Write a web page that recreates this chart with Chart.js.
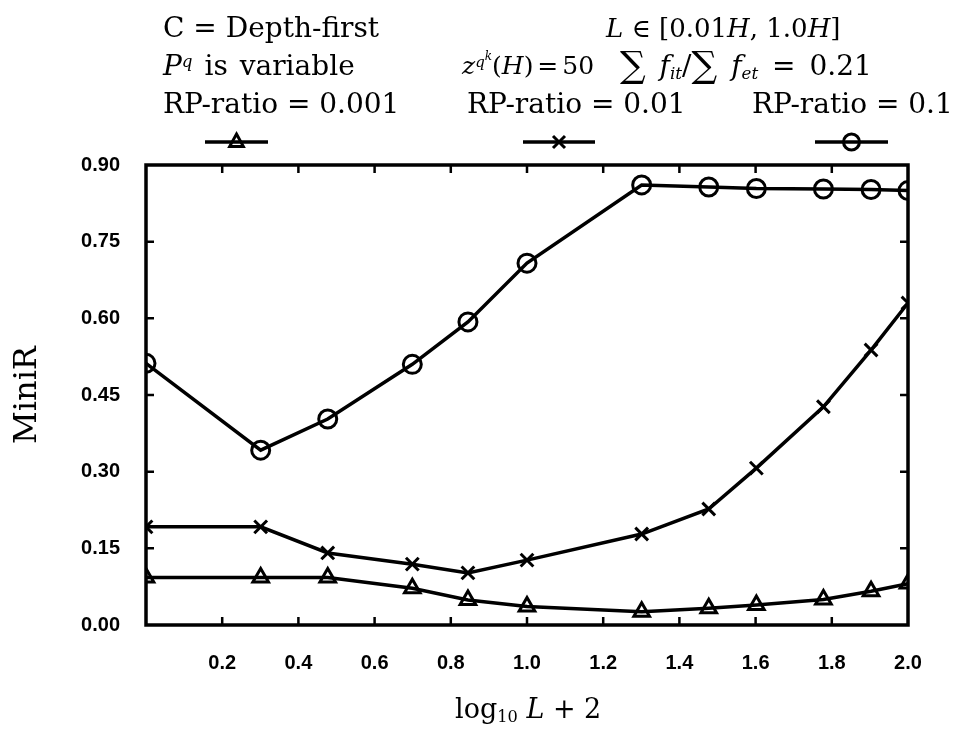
<!DOCTYPE html>
<html>
<head>
<meta charset="utf-8">
<script src="https://cdn.jsdelivr.net/npm/chart.js@4/dist/chart.umd.min.js"></script>
<style>
  body { margin: 0; background: #fff; }
  #wrap { position: relative; width: 958px; height: 730px; }
  .txt { position: absolute; font-family: "DejaVu Serif", serif; font-size: 28px; color: #000; white-space: nowrap; line-height: 30px; }
  .txt sup { font-size: 60%; vertical-align: 0.5em; line-height: 0; }
  .txt sub { font-size: 60%; vertical-align: -0.25em; line-height: 0; }
  .txt sup sup { font-size: 80%; vertical-align: 0.6em; }
  .sum { font-size: 36px; vertical-align: -2px; line-height: 0; }
</style>
</head>
<body>
<div id="wrap">
  <canvas id="chart" width="958" height="730"></canvas>
  <div class="txt" style="left:163px; top:13px;">C = Depth-first</div>
  <div class="txt" style="left:606px; top:13px; font-size:26px;"><i>L</i> ∈ [0.01<i>H</i>, 1.0<i>H</i>]</div>
  <div class="txt" style="left:163px; top:51px; word-spacing:3px;"><i>P</i><sup><i>q</i></sup> is variable</div>
  <div class="txt" style="left:462px; top:51px; font-size:25px; word-spacing:-4px;"><i>z</i><sup><i>q</i><sup><i>k</i></sup></sup>(<i>H</i>) = 50</div>
  <div class="txt" style="left:620px; top:51px; word-spacing:5px;"><span class="sum">∑</span> <i>f</i><sub><i>it</i></sub>/<span class="sum">∑</span> <i>f</i><sub><i>et</i></sub> = 0.21</div>
  <div class="txt" style="left:163px; top:89px;">RP-ratio = 0.001</div>
  <div class="txt" style="left:467px; top:89px;">RP-ratio = 0.01</div>
  <div class="txt" style="left:752px; top:89px;">RP-ratio = 0.1</div>
  <div class="txt" style="left:455px; top:694px; font-size:27px;">log<sub>10</sub> <i>L</i> + 2</div>
</div>
<script>
// x = log10 L + 2
const xValues = [0, 0.301, 0.477, 0.699, 0.845, 1.0, 1.301, 1.477, 1.602, 1.778, 1.903, 2.0];
const rp001 = [0.093, 0.093, 0.093, 0.072, 0.049, 0.036, 0.026, 0.033, 0.039, 0.050, 0.066, 0.081];
const rp01 = [0.192, 0.192, 0.141, 0.119, 0.102, 0.127, 0.178, 0.227, 0.307, 0.427, 0.538, 0.630];
const rp1 = [0.512, 0.342, 0.403, 0.510, 0.593, 0.708, 0.861, 0.857, 0.854, 0.853, 0.852, 0.850];
const seriesLabels = ["RP-ratio = 0.001", "RP-ratio = 0.01", "RP-ratio = 0.1"];
const markers = ["triangle", "crossRot", "circle"];
const xTicks = [0.2, 0.4, 0.6, 0.8, 1.0, 1.2, 1.4, 1.6, 1.8];
const yTicks = [0.15, 0.30, 0.45, 0.60, 0.75];

function toPoints(ys) {
  return ys.map((y, i) => ({ x: xValues[i], y: y }));
}

function drawMarker(ctx, style, x, y, r) {
  ctx.beginPath();
  if (style === "circle") {
    ctx.arc(x, y, r, 0, Math.PI * 2);
  } else if (style === "crossRot") {
    ctx.moveTo(x - r * 0.75, y - r * 0.75);
    ctx.lineTo(x + r * 0.75, y + r * 0.75);
    ctx.moveTo(x + r * 0.75, y - r * 0.75);
    ctx.lineTo(x - r * 0.75, y + r * 0.75);
  } else {
    ctx.moveTo(x, y - r);
    ctx.lineTo(x + r * 0.85, y + r * 0.55);
    ctx.lineTo(x - r * 0.85, y + r * 0.55);
    ctx.closePath();
  }
  ctx.stroke();
}

// frame with inward ticks + legend samples above the plot
const framePlugin = {
  id: "frame",
  afterDraw(chart) {
    const ctx = chart.ctx;
    const a = chart.chartArea;
    const xs = chart.scales.x, ys = chart.scales.y;
    ctx.save();
    ctx.strokeStyle = "#000";
    ctx.lineWidth = 3.5;
    ctx.strokeRect(a.left, a.top, a.right - a.left, a.bottom - a.top);
    ctx.lineWidth = 2.5;
    ctx.beginPath();
    xTicks.forEach(v => {
      const px = xs.getPixelForValue(v);
      ctx.moveTo(px, a.bottom); ctx.lineTo(px, a.bottom - 8);
      ctx.moveTo(px, a.top); ctx.lineTo(px, a.top + 8);
    });
    yTicks.forEach(v => {
      const py = ys.getPixelForValue(v);
      ctx.moveTo(a.left, py); ctx.lineTo(a.left + 8, py);
      ctx.moveTo(a.right, py); ctx.lineTo(a.right - 8, py);
    });
    ctx.stroke();

    // legend samples
    const samples = [[205, 268], [523, 595], [815, 888]];
    samples.forEach((s, i) => {
      const y = 142;
      ctx.lineWidth = 3.5;
      ctx.beginPath();
      ctx.moveTo(s[0], y); ctx.lineTo(s[1], y);
      ctx.stroke();
      ctx.lineWidth = 3;
      drawMarker(ctx, markers[i], (s[0] + s[1]) / 2, y, 8);
    });
    ctx.restore();
  }
};

const ctx = document.getElementById("chart").getContext("2d");
const datasets = [rp001, rp01, rp1].map((ys, i) => ({
  label: seriesLabels[i],
  data: toPoints(ys),
  showLine: true,
  borderColor: "#000",
  borderWidth: 3.5,
  backgroundColor: "rgba(0,0,0,0)",
  pointStyle: markers[i],
  pointRadius: 9,
  pointBorderWidth: 3,
  pointBorderColor: "#000",
  pointBackgroundColor: "rgba(0,0,0,0)",
  tension: 0,
}));

const tickFont = { family: "'Liberation Sans', Arial, sans-serif", size: 20, weight: "bold" };

new Chart(ctx, {
  type: "scatter",
  data: { datasets: datasets },
  options: {
    responsive: false,
    animation: false,
    layout: { padding: { top: 165, right: 50, bottom: 0, left: 0 } },
    plugins: {
      legend: { display: false },
      tooltip: { enabled: false },
    },
    scales: {
      x: {
        type: "linear",
        min: 0,
        max: 2,
        grid: { display: false, drawTicks: false },
        border: { display: false },
        afterFit: (scale) => { scale.height = 105; },
        afterBuildTicks: (scale) => {
          scale.ticks = [0].concat(xTicks, [2.0]).map(v => ({ value: v }));
        },
        ticks: {
          padding: 26,
          maxRotation: 0,
          autoSkip: false,
          color: "#000",
          font: tickFont,
          callback: (v) => (v === 0 ? "" : v.toFixed(1)),
        },
      },
      y: {
        min: 0,
        max: 0.9,
        grid: { display: false, drawTicks: false },
        border: { display: false },
        afterFit: (scale) => { scale.width = 146; },
        afterBuildTicks: (scale) => {
          scale.ticks = [0].concat(yTicks, [0.9]).map(v => ({ value: v }));
        },
        ticks: {
          padding: 26,
          autoSkip: false,
          color: "#000",
          font: tickFont,
          callback: (v) => v.toFixed(2),
        },
        title: {
          display: true,
          text: "MiniR",
          color: "#000",
          padding: { top: 8, bottom: 0 },
          font: { family: "DejaVu Serif", size: 32 },
        },
      },
    },
  },
  plugins: [framePlugin],
});
</script>
</body>
</html>
